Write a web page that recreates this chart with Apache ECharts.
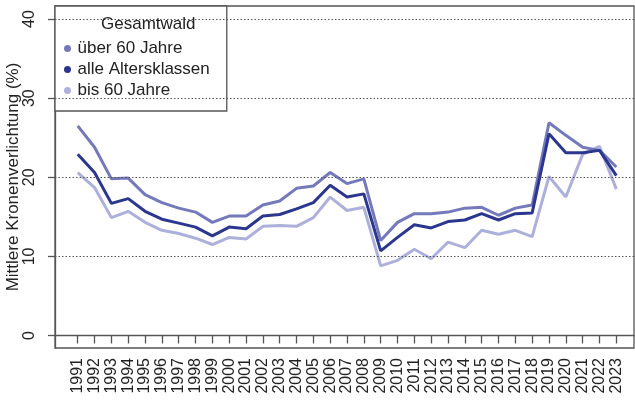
<!DOCTYPE html>
<html>
<head>
<meta charset="utf-8">
<script src="https://cdn.jsdelivr.net/npm/echarts@6/dist/echarts.min.js"></script>
<style>
  html, body { margin: 0; padding: 0; background: #fff; }
  #c1 { width: 635px; height: 401px; }
</style>
</head>
<body>
<div id="c1"></div>
<script>
// Jahre (x-Achse)
const years = [1991, 1992, 1993, 1994, 1995, 1996, 1997, 1998, 1999, 2000,
  2001, 2002, 2003, 2004, 2005, 2006, 2007, 2008, 2009, 2010,
  2011, 2012, 2013, 2014, 2015, 2016, 2017, 2018, 2019, 2020,
  2021, 2022, 2023]
const yTicks = [0, 10, 20, 30, 40]

// Mittlere Kronenverlichtung (%)
const ueber60 = [26.5, 23.8, 19.8, 19.9, 17.8, 16.8, 16.1, 15.6, 14.3, 15.1,
  15.1, 16.5, 17.0, 18.6, 18.9, 20.6, 19.2, 19.8, 12.0, 14.3,
  15.4, 15.4, 15.6, 16.1, 16.2, 15.2, 16.1, 16.5, 26.9, 25.3,
  23.8, 23.4, 21.3]
const alle = [22.9, 20.6, 16.7, 17.3, 15.7, 14.7, 14.2, 13.7, 12.6, 13.7,
  13.5, 15.1, 15.3, 16.0, 16.8, 19.0, 17.5, 17.9, 10.7, 12.4,
  14.0, 13.6, 14.4, 14.6, 15.4, 14.6, 15.4, 15.5, 25.5, 23.1,
  23.1, 23.4, 20.2]
const bis60 = [20.6, 18.7, 14.9, 15.7, 14.3, 13.3, 12.9, 12.3, 11.5, 12.4,
  12.2, 13.8, 13.9, 13.8, 14.9, 17.5, 15.8, 16.2, 8.8, 9.5,
  10.9, 9.7, 11.8, 11.1, 13.3, 12.8, 13.3, 12.5, 20.1, 17.5,
  22.9, 23.9, 18.5]

const pair = (arr) => arr.map((v, i) => [years[i], v])
const font = 'Liberation Sans, Arial, sans-serif'

const myChart = echarts.init(document.getElementById('c1'))
const option = {
  animation: false,
  title: {
    text: 'Gesamtwald',
    left: 96,
    top: 11,
    textStyle: { fontFamily: font, fontSize: 17, fontWeight: 'normal', color: '#222' }
  },
  legend: {
    orient: 'vertical',
    left: 55,
    top: 6,
    padding: [34, 17, 12, 9],
    itemGap: 4,
    itemWidth: 10,
    itemHeight: 7,
    icon: 'circle',
    backgroundColor: '#fff',
    borderColor: '#555',
    borderWidth: 1.3,
    borderRadius: 0,
    textStyle: { fontFamily: font, fontSize: 17, color: '#222', padding: [0, 0, 0, 0] },
    data: ['über 60 Jahre', 'alle Altersklassen', 'bis 60 Jahre']
  },
  grid: {
    left: 55,
    right: 1,
    top: 6,
    bottom: 53,
    show: true,
    borderColor: '#555',
    borderWidth: 1.3,
    containLabel: false,
    outerBoundsMode: 'none'
  },
  xAxis: {
    type: 'value',
    min: 1989.65,
    max: 2024.05,
    axisLine: { show: true, lineStyle: { color: '#555', width: 1.3 } },
    splitLine: { show: false },
    axisTick: {
      show: true,
      customValues: years,
      length: 8,
      lineStyle: { color: '#555', width: 1.3 }
    },
    axisLabel: {
      customValues: years,
      rotate: 90,
      margin: 10,
      fontFamily: font,
      fontSize: 16,
      color: '#222',
      formatter: (v) => String(v)
    }
  },
  yAxis: {
    type: 'value',
    min: -1.58,
    max: 41.65,
    name: 'Mittlere Kronenverlichtung (%)',
    nameLocation: 'middle',
    nameGap: 33,
    nameMoveOverlap: false,
    nameTextStyle: { fontFamily: font, fontSize: 17, color: '#222' },
    axisLine: { show: true, lineStyle: { color: '#555', width: 1.3 } },
    splitLine: { show: false },
    axisTick: {
      show: true,
      customValues: yTicks,
      length: 7,
      lineStyle: { color: '#555', width: 1.3 }
    },
    axisLabel: {
      customValues: yTicks,
      rotate: 90,
      margin: 17,
      fontFamily: font,
      fontSize: 16,
      color: '#222'
    }
  },
  series: [
    {
      name: 'bis 60 Jahre',
      type: 'line',
      data: pair(bis60),
      showSymbol: false,
      itemStyle: { color: '#aeb0dc' },
      lineStyle: { width: 3, color: '#aeb0dc' },
      markLine: {
        silent: true,
        symbol: 'none',
        label: { show: false },
        lineStyle: { color: '#555', width: 1, type: [1.5, 2] },
        data: yTicks.map(v => ({ yAxis: v }))
      },
      z: 2
    },
    {
      name: 'über 60 Jahre',
      type: 'line',
      data: pair(ueber60),
      showSymbol: false,
      itemStyle: { color: '#7479bb' },
      lineStyle: { width: 3, color: '#7479bb' },
      z: 3
    },
    {
      name: 'alle Altersklassen',
      type: 'line',
      data: pair(alle),
      showSymbol: false,
      itemStyle: { color: '#2b378e' },
      lineStyle: { width: 3, color: '#2b378e' },
      z: 4
    }
  ]
}
myChart.setOption(option)
</script>
</body>
</html>
